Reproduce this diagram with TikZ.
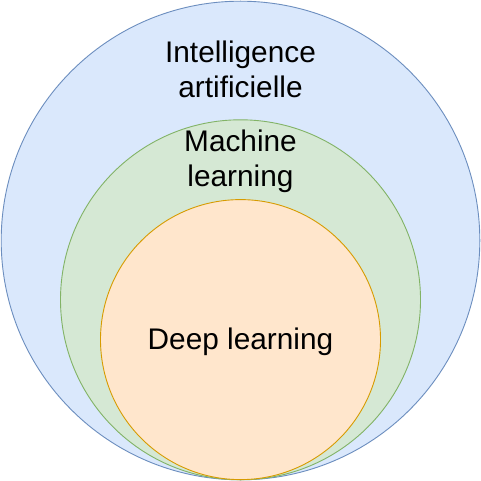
\documentclass[tikz,border=0pt]{standalone}
\usepackage{fontspec}
\setmainfont{Liberation Sans}
\definecolor{aiFill}{HTML}{DAE8FC}
\definecolor{aiLine}{HTML}{6C8EBF}
\definecolor{mlFill}{HTML}{D5E8D4}
\definecolor{mlLine}{HTML}{82B366}
\definecolor{dlFill}{HTML}{FFE6CC}
\definecolor{dlLine}{HTML}{D79B00}
\begin{document}
\begin{tikzpicture}[x=1pt,y=-1pt,
  ring/.style={line width=0.9pt},
  lbl/.style={inner sep=0pt,align=center,font=\fontsize{29.8}{34.5}\selectfont}]
\useasboundingbox (0,0) rectangle (481,481);
\fill[white] (0,0) rectangle (481,481);
\draw[ring,fill=aiFill,draw=aiLine] (240.5,240.5) circle[radius=239.3];
\draw[ring,fill=mlFill,draw=mlLine] (240.5,299.8) circle[radius=180];
\draw[ring,fill=dlFill,draw=dlLine] (240.5,339.6) circle[radius=140];
\node[lbl,anchor=base] (ai1) at (240.5,63) {Intelligence};
\node[lbl,anchor=base] (ai2) at (240.5,97.5) {artificielle};
\node[lbl,anchor=base] (ml1) at (240.5,152) {Machine};
\node[lbl,anchor=base] (ml2) at (240.5,186.5) {learning};
\node[lbl,anchor=base] (dl) at (240.5,349.5) {Deep learning};
\end{tikzpicture}
\end{document}
